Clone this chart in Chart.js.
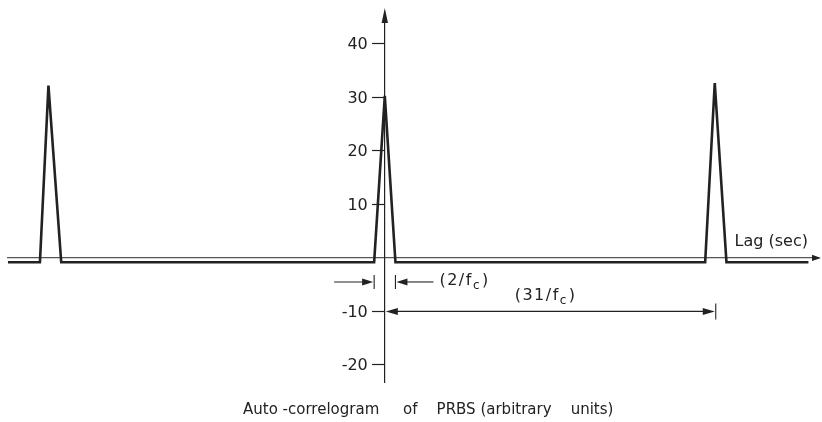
<!DOCTYPE html>
<html>
<head>
<meta charset="utf-8">
<title>Auto-correlogram of PRBS</title>
<script src="https://cdn.jsdelivr.net/npm/chart.js@4.4.1/dist/chart.umd.min.js"></script>
<style>
  html, body { margin: 0; padding: 0; background: #ffffff; }
  #wrap { width: 822px; height: 422px; }
</style>
</head>
<body>
<div id="wrap"><canvas id="acf" width="822" height="422"></canvas></div>
<script>
// Lag in units of the clock period (1/fc); correlation in arbitrary units
const lags = [-35.4, -32.4, -31.6, -30.4, -1.0, 0, 1.0, 30.1, 31.0, 32.1, 39.8];
const corr = [-0.8, -0.8, 32.2, -0.8, -0.8, 30.3, -0.8, -0.8, 32.7, -0.8, -0.8];
const yTicks = [-20, -10, 10, 20, 30, 40];
const caption = "Auto -correlogram     of    PRBS (arbitrary    units)";

const INK = "#222222";
const FONT = "'DejaVu Sans', sans-serif";

// tick labels, arrowheads, lag dimensions and captions
const overlay = {
  id: "overlay",
  afterDraw(chart) {
    const { ctx, chartArea, scales: { x, y } } = chart;
    const x0 = x.getPixelForValue(0);
    const y0 = y.getPixelForValue(0);

    ctx.save();
    ctx.fillStyle = INK;
    ctx.strokeStyle = INK;

    const head = (tx, ty, dir, len = 11, hw = 3.5) => {
      ctx.beginPath();
      if (dir === "up") {
        ctx.moveTo(tx, ty); ctx.lineTo(tx - hw, ty + len); ctx.lineTo(tx + hw, ty + len);
      } else if (dir === "right") {
        ctx.moveTo(tx, ty); ctx.lineTo(tx - len, ty - hw); ctx.lineTo(tx - len, ty + hw);
      } else {
        ctx.moveTo(tx, ty); ctx.lineTo(tx + len, ty - hw); ctx.lineTo(tx + len, ty + hw);
      }
      ctx.closePath();
      ctx.fill();
    };
    const line = (ax, ay, bx, by, w = 1.1) => {
      ctx.lineWidth = w;
      ctx.beginPath(); ctx.moveTo(ax, ay); ctx.lineTo(bx, by); ctx.stroke();
    };
    // "(n/f" + subscript c + ")"
    const fc = (num, lx, ly) => {
      ctx.letterSpacing = "1.5px";
      ctx.font = "16px " + FONT;
      ctx.textAlign = "left";
      ctx.textBaseline = "middle";
      const a = "(" + num + "/f";
      ctx.fillText(a, lx, ly);
      let cx = lx + ctx.measureText(a).width;
      ctx.font = "12px " + FONT;
      ctx.fillText("c", cx, ly + 5);
      cx += ctx.measureText("c").width + 1;
      ctx.font = "16px " + FONT;
      ctx.fillText(")", cx, ly);
      ctx.letterSpacing = "0px";
    };

    // y tick labels, left of the tick marks
    ctx.font = "16px " + FONT;
    ctx.textAlign = "right";
    ctx.textBaseline = "middle";
    y.ticks.forEach(t => ctx.fillText(String(t.value), x0 - 17, y.getPixelForValue(t.value) + 1));

    // axis arrows
    head(x0, chartArea.top - 6, "up", 15, 3.2);
    head(chartArea.right + 3, y0, "right", 9, 3.2);

    // 2/fc: outside arrows pointing at the main lobe edges
    const ya = y.getPixelForValue(-4.5);
    const xl = x.getPixelForValue(-1);
    const xr = x.getPixelForValue(1);
    line(xl, ya - 7, xl, ya + 7);
    line(xr, ya - 7, xr, ya + 7);
    line(xl - 40, ya, xl - 8, ya);
    head(xl - 1, ya, "right", 11, 3.5);
    line(xr + 8, ya, xr + 38, ya);
    head(xr + 1, ya, "left", 11, 3.5);
    fc(2, xr + 44, ya - 1);

    // 31/fc: period between correlation peaks
    const yb = y.getPixelForValue(-10);
    const xp = x.getPixelForValue(31);
    line(x0 + 8, yb, xp - 8, yb);
    head(x0 + 1, yb, "left", 12, 3.5);
    head(xp, yb, "right", 12, 3.5);
    line(xp + 1, yb - 8, xp + 1, yb + 8);
    fc(31, x.getPixelForValue(12.2), y.getPixelForValue(-7.1));

    // x axis caption
    ctx.font = "16px " + FONT;
    ctx.textAlign = "right";
    ctx.textBaseline = "alphabetic";
    ctx.fillText("Lag (sec)", chartArea.right - 10, y0 - 12);

    // figure caption below the plot
    ctx.font = "15px " + FONT;
    ctx.textAlign = "left";
    ctx.textBaseline = "middle";
    ctx.fillText(caption, 243, 410);

    ctx.restore();
  }
};

new Chart(document.getElementById("acf"), {
  type: "scatter",
  data: {
    datasets: [{
      data: lags.map((l, i) => ({ x: l, y: corr[i] })),
      showLine: true,
      borderColor: INK,
      borderWidth: 2.6,
      pointRadius: 0,
      tension: 0,
      borderJoinStyle: "miter"
    }]
  },
  options: {
    responsive: false,
    maintainAspectRatio: false,
    devicePixelRatio: 1,
    animation: false,
    layout: { padding: { left: 8, right: 4, top: 14, bottom: 40 } },
    plugins: {
      legend: { display: false },
      tooltip: { enabled: false },
      title: { display: false }
    },
    scales: {
      x: {
        type: "linear",
        min: -35.4,
        max: 40.7,
        position: { y: 0 },
        ticks: { display: false },
        grid: { drawOnChartArea: false, drawTicks: false },
        border: { display: true, color: "#555", width: 1.2 }
      },
      y: {
        type: "linear",
        min: -23.2,
        max: 45.6,
        position: { x: 0 },
        afterBuildTicks: scale => { scale.ticks = yTicks.map(v => ({ value: v })); },
        ticks: { display: false },
        grid: { drawOnChartArea: false, drawTicks: true, tickLength: 12, tickColor: INK, tickWidth: 1.2 },
        border: { display: true, color: INK, width: 1.2 }
      }
    }
  },
  plugins: [overlay]
});
</script>
</body>
</html>
